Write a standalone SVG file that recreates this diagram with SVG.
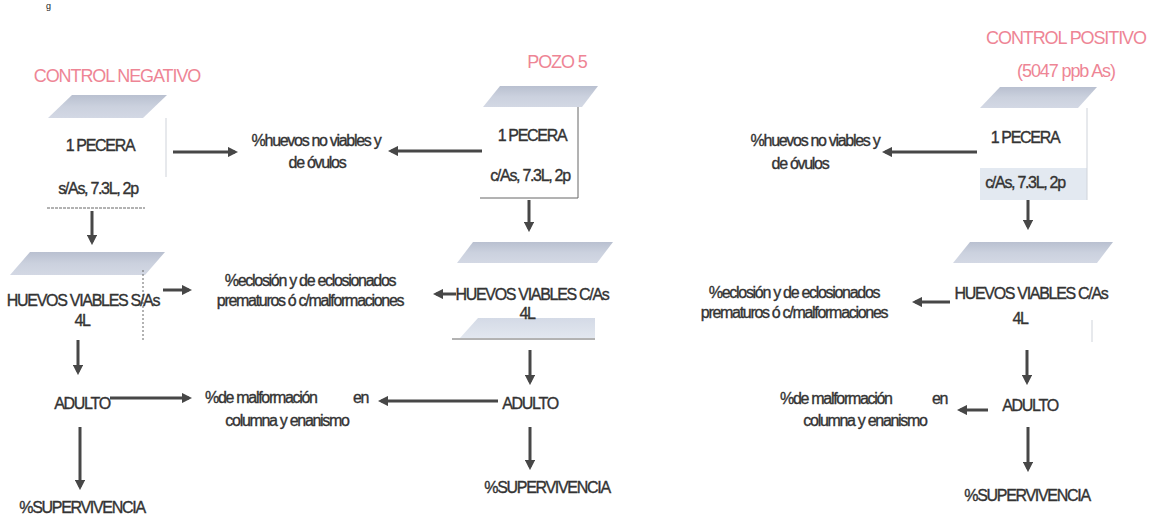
<svg xmlns="http://www.w3.org/2000/svg" width="1157" height="519" viewBox="0 0 1157 519">
<style>
.t{font-family:"Liberation Sans",Arial,sans-serif;font-size:16px;letter-spacing:-1.3px;fill:#333;stroke:#333;stroke-width:0.35px}
.c{text-anchor:middle}
.p{font-family:"Liberation Sans",Arial,sans-serif;font-size:18px;letter-spacing:-1.1px;fill:#ee8595;text-anchor:middle}
.par{fill:url(#g1)}
.par2{fill:url(#g2)}
.ln{stroke:#666;stroke-width:1;fill:none}
.lf{stroke:#cfd3da;stroke-width:1;fill:none}
.ar{stroke:#474747;stroke-width:3;fill:none;marker-end:url(#ah)}
</style>
<defs>
<linearGradient id="g1" x1="0" y1="0" x2="0" y2="1">
<stop offset="0" stop-color="#b9c0d0"/><stop offset="0.5" stop-color="#cbd1de"/><stop offset="1" stop-color="#d3d8e4"/>
</linearGradient>
<linearGradient id="g2" x1="0" y1="0" x2="0" y2="1">
<stop offset="0" stop-color="#d4dae6"/><stop offset="1" stop-color="#e2e7ef"/>
</linearGradient>
<marker id="ah" viewBox="0 0 10 10" refX="7" refY="5" markerWidth="3.5" markerHeight="3.5" orient="auto" markerUnits="strokeWidth">
<path d="M0,0 L10,5 L0,10 z" fill="#474747"/>
</marker>
</defs>
<rect width="1157" height="519" fill="#fff"/>
<text x="46" y="9" style="font-family:'Liberation Sans',Arial,sans-serif;font-size:9px;fill:#222">g</text>

<g id="neg-title"><text class="p" x="117" y="82">CONTROL NEGATIVO</text></g>
<g id="neg-pecera">
<polygon class="par" points="72,95 167,95 143,118 48,118"/>
<line class="lf" x1="166" y1="118" x2="166" y2="177"/>
<line class="ln" x1="47" y1="208" x2="145" y2="208" stroke-dasharray="3,1"/>
<text class="t c" x="100" y="151">1 PECERA</text>
<text class="t c" x="98" y="194">s/As, 7.3L, 2p</text>
</g>
<g id="neg-huevos">
<polygon class="par" points="30,252 165,252 145,275 10,275"/>
<line class="ln" x1="143" y1="270" x2="143" y2="340" stroke="#999" stroke-dasharray="2,2"/>
<text class="t c" x="83" y="306">HUEVOS VIABLES S/As</text>
<text class="t c" x="82" y="326">4L</text>
</g>
<g id="neg-adulto"><text class="t c" x="82" y="409">ADULTO</text></g>
<g id="neg-superv"><text class="t c" x="82" y="513">%SUPERVIVENCIA</text></g>

<g id="mid-huevos">
<text class="t c" x="316" y="146">%huevos no viables y</text>
<text class="t c" x="317" y="168">de óvulos</text>
</g>
<g id="mid-eclosion">
<text class="t c" x="310" y="286">%eclosión y de eclosionados</text>
<text class="t c" x="310" y="306">prematuros ó c/malformaciones</text>
</g>
<g id="mid-malf">
<text class="t" x="205" y="403">%de malformación</text>
<text class="t" x="353" y="403">en</text>
<text class="t c" x="287" y="426">columna y enanismo</text>
</g>

<g id="pozo-title"><text class="p" x="557" y="68">POZO 5</text></g>
<g id="pozo-pecera">
<polygon class="par" points="500,86 598,86 582,107 483,107"/>
<line class="ln" x1="578" y1="107" x2="578" y2="198"/>
<line class="ln" x1="480" y1="198" x2="578" y2="198"/>
<text class="t c" x="532" y="141">1 PECERA</text>
<text class="t c" x="530" y="181">c/As, 7.3L, 2p</text>
</g>
<g id="pozo-huevos">
<polygon class="par" points="473,242 613,242 597,263 457,263"/>
<polygon class="par2" points="478,318 595,318 595,338 460,338"/>
<line class="ln" x1="452" y1="339" x2="595" y2="339" stroke="#999"/>
<text class="t c" x="532" y="300">HUEVOS VIABLES C/As</text>
<text class="t c" x="527" y="319">4L</text>
</g>
<g id="pozo-adulto"><text class="t c" x="530" y="409">ADULTO</text></g>
<g id="pozo-superv"><text class="t c" x="547" y="493">%SUPERVIVENCIA</text></g>

<g id="pos-title">
<text class="p" x="1066" y="44">CONTROL POSITIVO</text>
<text class="p" x="1066" y="77">(5047 ppb As)</text>
</g>
<g id="pos-pecera">
<rect x="980" y="168" width="107" height="32" fill="#e3e9f1"/>
<line class="lf" x1="1087" y1="108" x2="1087" y2="200"/>
<polygon class="par" points="1000,87 1097,87 1078,108 980,108"/>
<text class="t c" x="1025" y="143">1 PECERA</text>
<text class="t c" x="1025" y="188">c/As, 7.3L, 2p</text>
</g>
<g id="pos-noviables">
<text class="t c" x="815" y="146">%huevos no viables y</text>
<text class="t c" x="800" y="169">de óvulos</text>
</g>
<g id="pos-huevos">
<polygon class="par" points="970,242 1113,242 1097,263 953,263"/>
<line class="lf" x1="1092" y1="320" x2="1092" y2="342"/>
<text class="t c" x="1031" y="299">HUEVOS VIABLES C/As</text>
<text class="t c" x="1020" y="324">4L</text>
</g>
<g id="pos-eclosion">
<text class="t c" x="794" y="298">%eclosión y de eclosionados</text>
<text class="t c" x="794" y="318">prematuros ó c/malformaciones</text>
</g>
<g id="pos-adulto"><text class="t c" x="1030" y="411">ADULTO</text></g>
<g id="pos-malf">
<text class="t" x="780" y="404">%de malformación</text>
<text class="t" x="932" y="404">en</text>
<text class="t c" x="865" y="426">columna y enanismo</text>
</g>
<g id="pos-superv"><text class="t c" x="1027" y="501">%SUPERVIVENCIA</text></g>

<g id="connectors">
<line class="ar" x1="173" y1="152" x2="235" y2="152"/>
<line class="ar" x1="482" y1="151" x2="391" y2="151"/>
<line class="ar" x1="92" y1="211" x2="92" y2="242"/>
<line class="ar" x1="163" y1="290" x2="189" y2="290"/>
<line class="ar" x1="78" y1="340" x2="78" y2="372"/>
<line class="ar" x1="110" y1="398" x2="189" y2="398"/>
<line class="ar" x1="80" y1="427" x2="80" y2="487"/>
<line class="ar" x1="529" y1="200" x2="529" y2="229"/>
<line class="ar" x1="456" y1="294" x2="436" y2="294"/>
<line class="ar" x1="530" y1="350" x2="530" y2="382"/>
<line class="ar" x1="498" y1="401" x2="381" y2="401"/>
<line class="ar" x1="530" y1="427" x2="530" y2="467"/>
<line class="ar" x1="977" y1="152" x2="885" y2="152"/>
<line class="ar" x1="1028" y1="200" x2="1028" y2="227"/>
<line class="ar" x1="950" y1="302" x2="915" y2="302"/>
<line class="ar" x1="1027" y1="350" x2="1027" y2="382"/>
<line class="ar" x1="988" y1="410" x2="960" y2="410"/>
<line class="ar" x1="1028" y1="427" x2="1028" y2="469"/>
</g>
</svg>
